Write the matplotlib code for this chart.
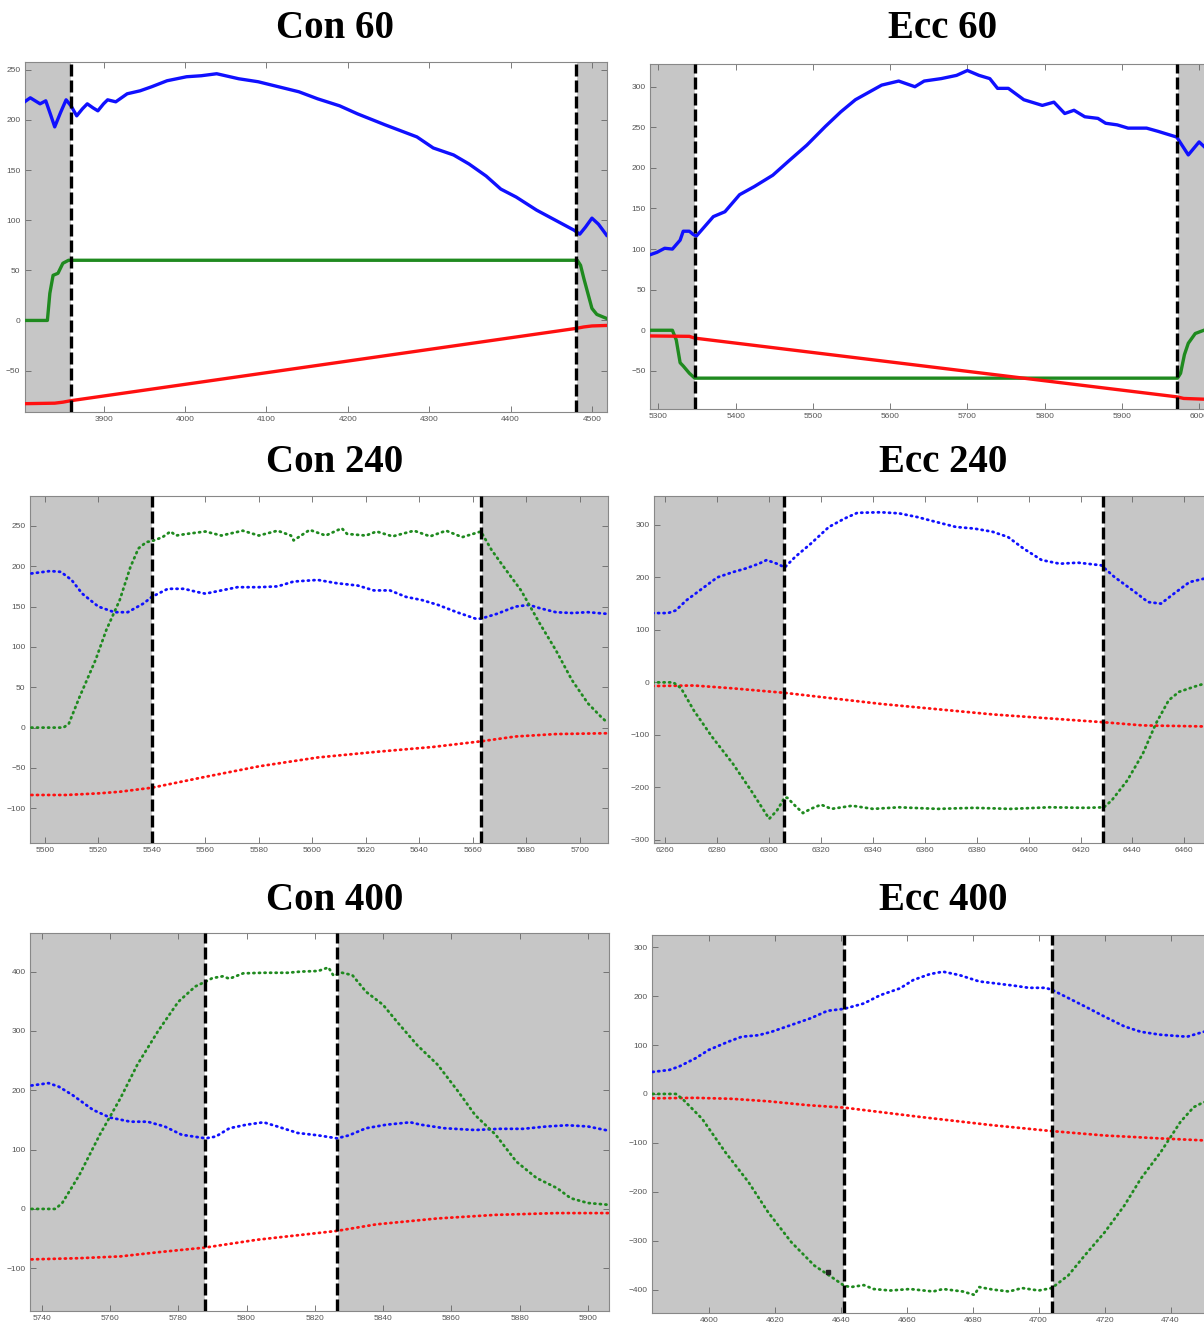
import matplotlib
matplotlib.use("Agg")
import matplotlib.pyplot as plt
import numpy as np

# ---------------- Con 60 ----------------
con60_blue_x = [3803, 3810, 3822, 3829, 3835, 3840, 3847, 3854, 3860, 3867, 3874, 3880, 3887, 3893,
                3900, 3905, 3915, 3929, 3945, 3959, 3978, 4002, 4020, 4039, 4066, 4090, 4115, 4140,
                4163, 4190, 4212, 4246, 4285, 4305, 4330, 4349, 4370, 4388, 4407, 4432, 4455, 4478,
                4485, 4492, 4500, 4508, 4518]
con60_blue_y = [218, 222, 216, 219, 205, 193, 207, 220, 214, 204, 211, 216, 212, 209,
                216, 220, 218, 226, 229, 233, 239, 243, 244, 246, 241, 238, 233, 228,
                221, 214, 206, 195, 183, 172, 165, 156, 144, 131, 123, 110, 100, 90,
                86, 93, 102, 96, 85]
con60_green_x = [3803, 3831, 3834, 3838, 3844, 3850, 3857, 3862, 4482, 4486, 4490, 4494, 4500, 4506, 4512, 4518]
con60_green_y = [0, 0, 27, 45, 47, 57, 60, 60, 60, 55, 42, 30, 12, 6, 4, 2]
con60_red_x = [3803, 3840, 3850, 3860, 4480, 4490, 4500, 4518]
con60_red_y = [-83, -82.5, -81.5, -80, -8, -6.5, -5.5, -5]
con60_marks = [3860, 4480]

# ---------------- Ecc 60 ----------------
ecc60_blue_x = [5289, 5298, 5308, 5318, 5328, 5332, 5340, 5345, 5349, 5371, 5386, 5405, 5424, 5448,
                5468, 5492, 5516, 5536, 5555, 5589, 5611, 5632, 5644, 5666, 5686, 5700, 5715, 5729,
                5739, 5753, 5773, 5797, 5812, 5826, 5838, 5852, 5869, 5879, 5894, 5908, 5932, 5947,
                5971, 5986, 6000, 6009, 6020, 6040]
ecc60_blue_y = [93, 96, 101, 100, 111, 122, 122, 118, 116, 140, 146, 167, 177, 191,
                208, 228, 251, 269, 284, 302, 307, 300, 307, 310, 314, 320, 314, 310,
                298, 298, 284, 277, 281, 267, 271, 263, 261, 255, 253, 249, 249, 245,
                238, 216, 232, 224, 222, 222]
ecc60_green_x = [5289, 5318, 5323, 5328, 5332, 5340, 5347, 5972, 5976, 5981, 5986, 5995, 6009, 6040]
ecc60_green_y = [0, 0, -12, -40, -44, -53, -59, -59, -53, -30, -16, -4, 1, 2]
ecc60_red_x = [5289, 5340, 5347, 5971, 5980, 6009, 6040]
ecc60_red_y = [-7, -7.5, -9.7, -82, -84, -85, -85]
ecc60_marks = [5347, 5972]

# ---------------- Con 240 ----------------
con240_green_x = [5495, 5507, 5509, 5513, 5519, 5523, 5528, 5532, 5535, 5538, 5540, 5544, 5547, 5549,
                  5553, 5560, 5566, 5574, 5580, 5587, 5592, 5593, 5599, 5605, 5611, 5613, 5620, 5624,
                  5630, 5638, 5644, 5650, 5656, 5663, 5667, 5672, 5678, 5685, 5691, 5697, 5703, 5708, 5710]
con240_green_y = [0, 0, 5, 38, 84, 121, 158, 199, 222, 230, 231, 236, 243, 238,
                  240, 243, 238, 244, 238, 244, 238, 232, 245, 238, 247, 240, 238, 243,
                  237, 244, 237, 244, 236, 243, 220, 197, 170, 129, 96, 59, 30, 13, 7]
con240_blue_x = [5495, 5502, 5506, 5510, 5514, 5520, 5526, 5531, 5537, 5540, 5546, 5552, 5557, 5560,
                 5566, 5572, 5580, 5587, 5593, 5602, 5609, 5617, 5623, 5629, 5635, 5641, 5647, 5654,
                 5661, 5663, 5669, 5676, 5681, 5685, 5691, 5697, 5703, 5710]
con240_blue_y = [191, 194, 193, 183, 166, 150, 143, 143, 154, 162, 172, 172, 168, 166,
                 170, 174, 174, 175, 181, 183, 179, 176, 170, 170, 162, 158, 152, 143,
                 135, 135, 141, 150, 152, 148, 143, 142, 143, 141]
con240_red_x = [5495, 5508, 5520, 5528, 5540, 5560, 5580, 5602, 5624, 5645, 5663, 5676, 5691, 5710]
con240_red_y = [-83.5, -83.5, -81.5, -79.5, -74.5, -61, -48, -37, -30, -24, -17, -11, -8, -7]
con240_marks = [5540, 5663]

# ---------------- Ecc 240 ----------------
ecc240_blue_x = [6255, 6261, 6264, 6268, 6274, 6280, 6286, 6291, 6296, 6299, 6303, 6306, 6310, 6316,
                 6323, 6329, 6334, 6343, 6350, 6357, 6364, 6372, 6379, 6386, 6392, 6398, 6405, 6412,
                 6419, 6428, 6433, 6441, 6446, 6451, 6456, 6462, 6468, 6478]
ecc240_blue_y = [132, 132, 137, 156, 178, 200, 210, 217, 226, 233, 226, 219, 239, 264,
                 296, 312, 323, 324, 322, 315, 306, 296, 293, 287, 277, 255, 233, 226,
                 228, 223, 201, 172, 153, 150, 169, 191, 198, 200]
ecc240_red_x = [6255, 6271, 6286, 6306, 6343, 6386, 6429, 6444, 6468, 6478]
ecc240_red_y = [-7, -6, -11.4, -20, -41, -61, -76, -82, -84, -84]
ecc240_green_x = [6255, 6263, 6266, 6271, 6278, 6286, 6293, 6300, 6303, 6306, 6307, 6310, 6313, 6316,
                  6320, 6324, 6332, 6340, 6350, 6365, 6379, 6393, 6408, 6422, 6429, 6432, 6438, 6444,
                  6449, 6454, 6458, 6464, 6468, 6478]
ecc240_green_y = [0, 0, -11, -54, -104, -155, -206, -260, -244, -219, -220, -235, -249, -241,
                  -233, -241, -235, -241, -238, -241, -239, -241, -238, -239, -238, -225, -187, -136,
                  -79, -34, -18, -8, -2, 0]
ecc240_marks = [6305.6, 6428.7]

# ---------------- Con 400 ----------------
con400_green_x = [5737, 5744, 5746, 5751, 5757, 5763, 5768, 5774, 5780, 5785, 5788, 5790, 5793, 5795,
                  5799, 5805, 5812, 5816, 5821, 5824, 5825.5, 5828, 5831, 5835, 5840, 5844, 5850, 5856,
                  5862, 5867, 5873, 5879, 5885, 5891, 5895, 5900, 5906]
con400_green_y = [0, 0, 10, 57, 125, 186, 243, 299, 349, 375, 383, 389, 392, 388,
                  397, 398, 398, 400, 401, 407, 393, 398, 394, 366, 344, 316, 276, 243,
                  198, 158, 125, 80, 52, 35, 18, 10, 7]
con400_blue_x = [5737, 5742, 5745, 5749, 5755, 5760, 5766, 5771, 5776, 5781, 5788, 5791, 5795, 5800,
                 5805, 5809, 5815, 5821, 5826.5, 5830, 5835, 5841, 5848, 5851, 5858, 5867, 5874, 5881,
                 5888, 5894, 5900, 5906]
con400_blue_y = [208, 212, 206, 192, 167, 154, 147, 147, 139, 125, 119, 122, 136, 142,
                 146, 139, 128, 124, 119, 124, 136, 142, 146, 142, 136, 133, 135, 135,
                 139, 141, 139, 132]
con400_red_x = [5737, 5751, 5763, 5774, 5788, 5803, 5826.5, 5838, 5856, 5873, 5891, 5906]
con400_red_y = [-85, -83, -80, -73, -65, -52, -37, -26, -16, -10, -7, -7]
con400_marks = [5787.7, 5826.5]

# ---------------- Ecc 400 ----------------
ecc400_blue_x = [4583, 4588, 4591, 4596, 4600, 4606, 4610, 4615, 4619, 4625, 4631, 4636, 4641, 4647,
                 4652, 4658, 4662, 4667, 4671, 4676, 4682, 4687, 4693, 4697, 4702, 4704, 4709, 4714,
                 4720, 4726, 4731, 4737, 4745, 4750, 4758]
ecc400_blue_y = [45, 49, 56, 73, 90, 107, 117, 120, 127, 141, 155, 170, 174, 185,
                 202, 216, 233, 245, 250, 243, 230, 226, 221, 217, 217, 213, 196, 179,
                 158, 138, 127, 121, 117, 127, 135]
ecc400_red_x = [4583, 4596, 4607, 4618, 4630, 4641, 4664, 4686, 4704, 4720, 4737, 4750, 4758]
ecc400_red_y = [-9, -8, -10, -15, -23, -28, -47, -64, -76, -85, -91, -95, -96]
ecc400_green_x = [4583, 4590, 4592, 4598, 4605, 4612, 4618, 4625, 4632, 4638, 4641, 4643, 4647, 4650,
                  4655, 4661, 4668, 4671, 4677, 4680.5, 4682, 4686, 4691, 4695, 4700, 4704, 4709, 4714,
                  4720, 4726, 4731, 4737, 4743, 4747, 4750, 4758]
ecc400_green_y = [0, 0, -10, -51, -119, -180, -242, -303, -351, -378, -392, -395, -391, -399,
                  -402, -399, -404, -399, -404, -411, -395, -400, -404, -397, -402, -397, -371, -330,
                  -283, -228, -173, -119, -57, -27, -17, -5]
ecc400_marks = [4641, 4704]
ecc400_extra = (4636, -365)

BLUE = "#1010ff"
GREEN = "#1f8a1f"
RED = "#ff1010"
SHADE = "#c6c6c6"

plt.rcParams["font.family"] = ["Liberation Sans", "DejaVu Sans"]
fig = plt.figure(figsize=(12.04, 13.26), dpi=100)
W, H = 1204.0, 1326.0


def make_axes(left, right, top, bottom):
    return fig.add_axes([left / W, 1 - bottom / H, (right - left) / W, (bottom - top) / H])


def style(ax, title, xlim, ylim, xticks, yticks, marks, tx):
    ax.set_facecolor(SHADE)
    ax.axvspan(marks[0], marks[1], color="white", zorder=0)
    for m in marks:
        ax.axvline(m, color="black", lw=2.4, linestyle=(0, (3.6, 1.2)), zorder=5)
    ax.set_xlim(*xlim)
    ax.set_ylim(*ylim)
    ax.set_xticks(xticks)
    ax.set_yticks(yticks)
    ax.tick_params(direction="in", length=4, width=0.6, color="#666", labelsize=6,
                   labelcolor="#555", top=True, right=True, pad=3)
    for s in ax.spines.values():
        s.set_color("#888")
        s.set_linewidth(0.8)
    fig.text(tx[0] / W, 1 - tx[1] / H, title, ha="center", va="center",
             fontsize=28, fontweight="bold", family="Liberation Serif")


def solid(ax, x, y, c):
    ax.plot(x, y, color=c, lw=2.4, solid_joinstyle="round", zorder=3)


def dotted(ax, x, y, c):
    ax.plot(x, y, color=c, lw=2.0, linestyle=(0, (0.4, 1.6)), dash_capstyle="round", zorder=3)


# Con 60
ax = make_axes(24.6, 607, 61.7, 411.7)
solid(ax, con60_red_x, con60_red_y, RED)
solid(ax, con60_green_x, con60_green_y, GREEN)
solid(ax, con60_blue_x, con60_blue_y, BLUE)
style(ax, "Con 60", (3803, 4518.5), (-91, 258), np.arange(3900, 4501, 100),
      np.arange(-50, 251, 50), con60_marks, (335, 28))

# Ecc 60
ax = make_axes(650, 1230, 64, 409)
solid(ax, ecc60_green_x, ecc60_green_y, GREEN)
solid(ax, ecc60_red_x, ecc60_red_y, RED)
solid(ax, ecc60_blue_x, ecc60_blue_y, BLUE)
style(ax, "Ecc 60", (5289, 6040), (-97, 328), np.arange(5300, 6001, 100),
      np.arange(-50, 301, 50), ecc60_marks, (943, 28))

# Con 240
ax = make_axes(29.8, 608, 496, 843)
dotted(ax, con240_red_x, con240_red_y, RED)
dotted(ax, con240_blue_x, con240_blue_y, BLUE)
dotted(ax, con240_green_x, con240_green_y, GREEN)
style(ax, "Con 240", (5494.4, 5710.5), (-143, 287), np.arange(5500, 5701, 20),
      np.arange(-100, 251, 50), con240_marks, (335, 463))

# Ecc 240
ax = make_axes(653.5, 1231, 496, 843)
dotted(ax, ecc240_red_x, ecc240_red_y, RED)
dotted(ax, ecc240_blue_x, ecc240_blue_y, BLUE)
dotted(ax, ecc240_green_x, ecc240_green_y, GREEN)
style(ax, "Ecc 240", (6255.4, 6478), (-306, 355), np.arange(6260, 6461, 20),
      np.arange(-300, 301, 100), ecc240_marks, (943, 463))

# Con 400
ax = make_axes(29.8, 609, 933, 1311)
dotted(ax, con400_red_x, con400_red_y, RED)
dotted(ax, con400_blue_x, con400_blue_y, BLUE)
dotted(ax, con400_green_x, con400_green_y, GREEN)
style(ax, "Con 400", (5736.5, 5906.2), (-172, 465), np.arange(5740, 5901, 20),
      np.arange(-100, 401, 100), con400_marks, (335, 900))

# Ecc 400
ax = make_axes(651.7, 1230, 935, 1313)
dotted(ax, ecc400_red_x, ecc400_red_y, RED)
dotted(ax, ecc400_blue_x, ecc400_blue_y, BLUE)
dotted(ax, ecc400_green_x, ecc400_green_y, GREEN)
ax.plot([ecc400_extra[0]], [ecc400_extra[1]], marker="s", ms=3.5, color="#222", zorder=4)
style(ax, "Ecc 400", (4582.7, 4758), (-448, 325), np.arange(4600, 4741, 20),
      np.arange(-400, 301, 100), ecc400_marks, (943, 900))

fig.savefig("out.png", dpi=100)
